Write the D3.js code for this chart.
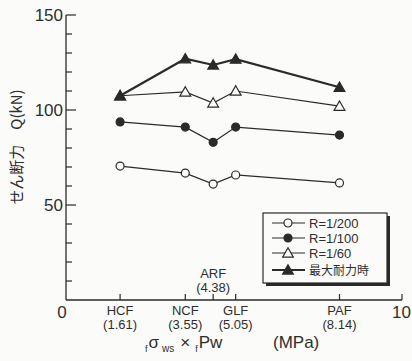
<!DOCTYPE html>
<html>
<head>
<meta charset="utf-8">
<script src="https://cdn.jsdelivr.net/npm/d3@7"></script>
<style>
  body { margin: 0; background: #fbfbf9; }
  svg { display: block; }
  text { fill: #2e2e2e; font-family: "Liberation Sans", Arial, sans-serif; }
  .jp { font-family: "Noto Sans CJK JP", sans-serif; }
</style>
</head>
<body>
<svg id="chart"></svg>
<script>
// specimen names and their x values (MPa)
var categories = ['HCF', 'NCF', 'ARF', 'GLF', 'PAF'];
var xValues = [1.61, 3.55, 4.38, 5.05, 8.14];

// shear force Q (kN)
var r200 = [70.5, 66.8, 61.0, 65.8, 61.6];
var r100 = [93.7, 91.0, 83.0, 91.0, 86.8];
var r60 = [107.5, 109.5, 103.7, 110.0, 102.0];
var maxLoad = [107.5, 127.0, 123.7, 126.8, 112.0];

var yTicks = [0, 50, 100, 150];

var width = 412, height = 361;
var svg = d3.select('#chart').attr('width', width).attr('height', height);

var x = d3.scaleLinear().domain([0, 10]).range([66, 402]);
var y = d3.scaleLinear().domain([0, 150]).range([300, 15]);
var ink = '#2a2a2a';

// y axis, ticks pointing inward
svg.append('line')
    .attr('x1', x(0)).attr('x2', x(0))
    .attr('y1', y(150)).attr('y2', y(0))
    .attr('stroke', ink).attr('stroke-width', 1.3);
d3.range(10, 151, 10).forEach(function(v) {
    var major = v % 50 === 0;
    svg.append('line')
        .attr('x1', x(0)).attr('x2', x(0) + (major ? 10 : 6))
        .attr('y1', y(v)).attr('y2', y(v))
        .attr('stroke', ink).attr('stroke-width', 1.2);
});
yTicks.filter(function(v) { return v > 0; }).forEach(function(v) {
    svg.append('text')
        .attr('x', x(0) - 3).attr('y', y(v) + 6)
        .attr('text-anchor', 'end')
        .attr('font-size', 17)
        .text(v);
});

// x axis
svg.append('line')
    .attr('x1', x(0)).attr('x2', x(10))
    .attr('y1', y(0)).attr('y2', y(0))
    .attr('stroke', ink).attr('stroke-width', 1.3);
xValues.concat([10]).forEach(function(v) {
    svg.append('line')
        .attr('x1', x(v)).attr('x2', x(v))
        .attr('y1', y(0)).attr('y2', y(0) - 6)
        .attr('stroke', ink).attr('stroke-width', 1.2);
});
svg.append('text').attr('x', x(0) - 4).attr('y', 318)
    .attr('text-anchor', 'middle').attr('font-size', 17).text('0');
svg.append('text').attr('x', 411).attr('y', 318)
    .attr('text-anchor', 'end').attr('font-size', 17).text('10');

categories.forEach(function(name, i) {
    var above = name === 'ARF';
    var ty = above ? 278 : 315;
    svg.append('text')
        .attr('x', x(xValues[i])).attr('y', ty)
        .attr('text-anchor', 'middle').attr('font-size', 13)
        .text(name);
    svg.append('text')
        .attr('x', x(xValues[i])).attr('y', ty + 14)
        .attr('text-anchor', 'middle').attr('font-size', 13)
        .text('(' + xValues[i].toFixed(2) + ')');
});

// axis titles
svg.append('text')
    .attr('class', 'jp')
    .attr('transform', 'translate(22,147) rotate(-90)')
    .attr('text-anchor', 'middle')
    .attr('font-size', 15)
    .text('せん断力　Q(kN)');

var xt = svg.append('text').attr('x', 145).attr('y', 352).attr('font-size', 17);
xt.append('tspan').attr('font-size', 9).attr('dy', 0).text('f');
xt.append('tspan').attr('dx', 1).attr('dy', -4).text('σ');
xt.append('tspan').attr('font-size', 10).attr('dx', 3).attr('dy', 4).text('ws');
xt.append('tspan').attr('dx', 6).attr('dy', -4).text('×');
xt.append('tspan').attr('font-size', 9).attr('dx', 5).attr('dy', 4).text('f');
xt.append('tspan').attr('dx', 1).attr('dy', -4).text('Pw');
svg.append('text').attr('x', 273).attr('y', 348).attr('font-size', 17).text('(MPa)');

// series
var series = [
    {label: 'R=1/200', values: r200, shape: 'circle', fill: false, lw: 1.2},
    {label: 'R=1/100', values: r100, shape: 'circle', fill: true, lw: 1.2},
    {label: 'R=1/60', values: r60, shape: 'triangle', fill: false, lw: 1.2},
    {label: '最大耐力時', values: maxLoad, shape: 'triangle', fill: true, lw: 2.2}
];

var line = d3.line()
    .x(function(d, i) { return x(xValues[i]); })
    .y(function(d) { return y(d); });

function marker(g, s, cx, cy) {
    var fill = s.fill ? ink : '#fbfbf9';
    if (s.shape === 'circle') {
        g.append('circle').attr('cx', cx).attr('cy', cy).attr('r', 4)
            .attr('fill', fill).attr('stroke', ink).attr('stroke-width', 1.2);
    } else {
        g.append('path')
            .attr('d', d3.symbol().type(d3.symbolTriangle).size(50)())
            .attr('transform', 'translate(' + cx + ',' + (cy + 1) + ')')
            .attr('fill', fill).attr('stroke', ink).attr('stroke-width', 1.2);
    }
}

series.forEach(function(s) {
    var g = svg.append('g');
    g.append('path').datum(s.values)
        .attr('d', line)
        .attr('fill', 'none').attr('stroke', ink).attr('stroke-width', s.lw);
    s.values.forEach(function(v, i) {
        marker(g, s, x(xValues[i]), y(v));
    });
});

// legend with drop shadow
var lg = svg.append('g');
lg.append('rect').attr('x', 266).attr('y', 216).attr('width', 124).attr('height', 70)
    .attr('fill', ink);
lg.append('rect').attr('x', 263).attr('y', 213).attr('width', 124).attr('height', 70)
    .attr('fill', '#fbfbf9').attr('stroke', ink).attr('stroke-width', 1.2);
var legendRows = [223, 238, 253, 270];
series.forEach(function(s, i) {
    var ly = legendRows[i];
    lg.append('line').attr('x1', 272).attr('x2', 305).attr('y1', ly).attr('y2', ly)
        .attr('stroke', ink).attr('stroke-width', s.lw);
    marker(lg, s, 288, ly);
    lg.append('text')
        .attr('class', i === 3 ? 'jp' : null)
        .attr('x', 309).attr('y', ly + 4.5)
        .attr('font-size', i === 3 ? 12 : 13)
        .text(s.label);
});
</script>
</body>
</html>
